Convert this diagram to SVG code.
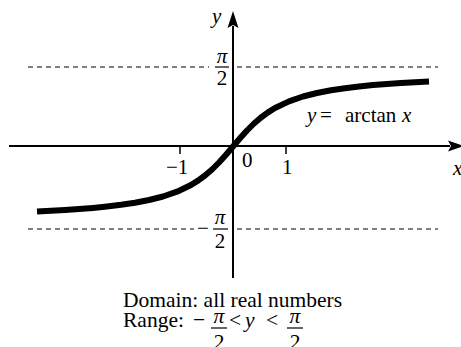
<svg xmlns="http://www.w3.org/2000/svg" width="461" height="347" viewBox="0 0 461 347">
<style>
text{font-family:"Liberation Serif","Times New Roman",serif;fill:#000;font-size:21px}
.it{font-style:italic}
.cap{font-size:21.5px}
.ax{stroke:#000;stroke-width:2;fill:none}
.tick{stroke:#000;stroke-width:1.5}
.dash{stroke:#000;stroke-width:1.2;stroke-dasharray:5 4;fill:none}
.bar{stroke:#000;stroke-width:1.2}
.mid{text-anchor:middle}
</style>
<rect width="461" height="347" fill="#fff"/>
<g id="asymptotes">
<line class="dash" x1="28" y1="67" x2="209" y2="67"/>
<line class="dash" x1="237" y1="67" x2="438" y2="67"/>
<line class="dash" x1="28" y1="229" x2="194" y2="229"/>
<line class="dash" x1="237" y1="229" x2="438" y2="229"/>
</g>
<g id="axes">
<line class="ax" x1="9" y1="146" x2="450" y2="146"/>
<polygon points="464,146 448,140.5 451,146 448,151.5" fill="#000"/>
<line class="ax" x1="233" y1="26" x2="233" y2="278"/>
<polygon points="233,11 227.5,28 233,25 238.5,28" fill="#000"/>
<line class="tick" x1="180" y1="146" x2="180" y2="154"/>
<line class="tick" x1="286" y1="146" x2="286" y2="154"/>
</g>
<g id="curve">
<polyline fill="none" stroke="#000" stroke-width="6" stroke-linejoin="round" points="37,211.6 51,210.8 65,210 79,209 93,207.9 107,206.5 121,204.8 135,202.7 149,200 163,196.5 177,191.7 191,185 198,180.6 205,175.5 212,169.5 219,162.5 226,154.7 233,146.5 240,138.3 247,130.5 254,123.5 261,117.5 268,112.4 275,108 289,101.4 303,96.5 317,93 331,90.3 345,88.2 359,86.5 373,85.1 387,84 401,83 415,82.2 429,81.5"/>
</g>
<g id="labels">
<text class="it" x="212" y="23">y</text>
<text class="it" x="453" y="175">x</text>
<text x="166" y="174">−1</text>
<text x="242" y="167">0</text>
<text x="282" y="174">1</text>
<text class="mid it" x="222" y="63">π</text>
<line class="bar" x1="215" y1="67" x2="229" y2="67"/>
<text class="mid" x="222" y="85">2</text>
<text x="197" y="235">−</text>
<text class="mid it" x="220" y="224">π</text>
<line class="bar" x1="213" y1="229" x2="228" y2="229"/>
<text class="mid" x="220" y="248">2</text>
<text x="307" y="122"><tspan class="it">y</tspan><tspan x="320">=</tspan><tspan x="345">arctan</tspan><tspan class="it" x="402">x</tspan></text>
</g>
<g id="caption">
<text class="cap" x="123" y="307">Domain: all real numbers</text>
<text class="cap" x="123" y="327">Range:</text>
<text class="cap" x="193" y="327">−</text>
<text class="mid it cap" x="219" y="323">π</text>
<line class="bar" x1="211" y1="328" x2="227" y2="328"/>
<text class="mid cap" x="219" y="349">2</text>
<text class="cap" x="229" y="327">&lt;</text>
<text class="it cap" x="245" y="327">y</text>
<text class="cap" x="266" y="327">&lt;</text>
<text class="mid it cap" x="295" y="323">π</text>
<line class="bar" x1="287" y1="328" x2="303" y2="328"/>
<text class="mid cap" x="295" y="349">2</text>
</g>
</svg>
